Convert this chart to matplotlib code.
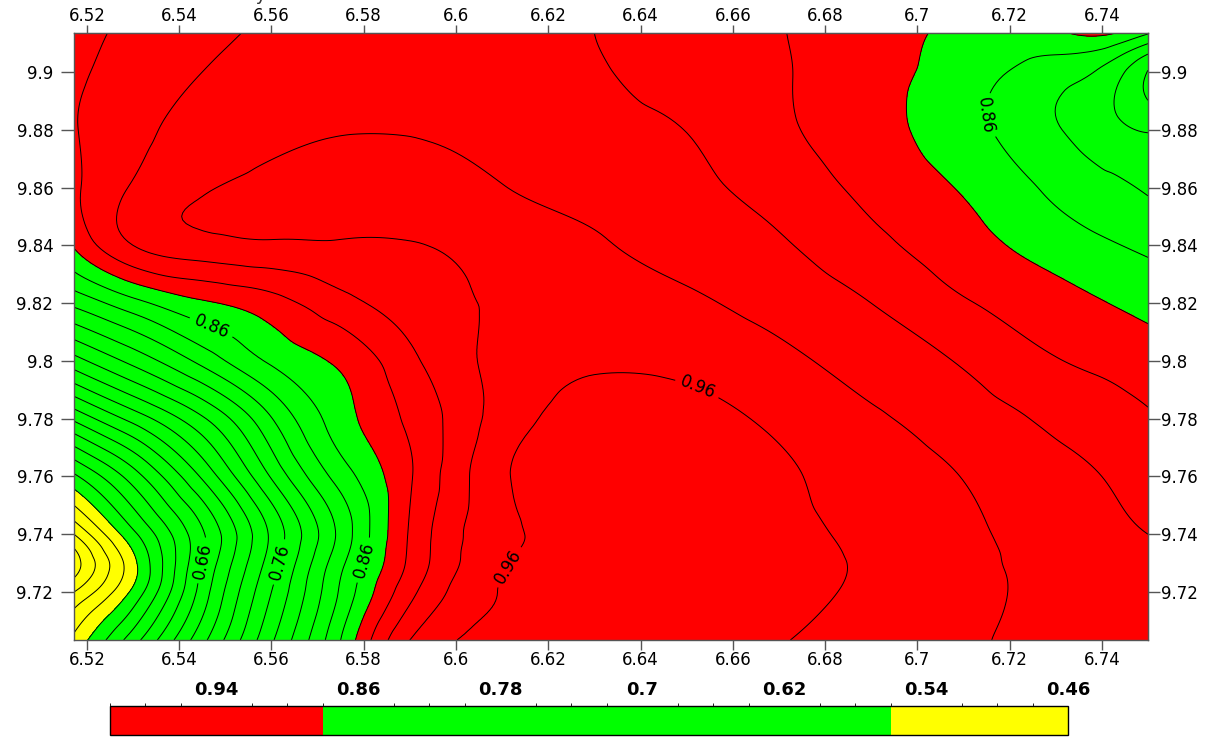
import numpy as np
import matplotlib
matplotlib.use('Agg')
import matplotlib.pyplot as plt
import matplotlib.tri as mtri
import matplotlib.cm as cm
from matplotlib.colors import ListedColormap, BoundaryNorm

# grid (x = easting, y = northing)
x_vals = [6.5172, 6.53, 6.545, 6.56, 6.575, 6.59, 6.61, 6.63, 6.65, 6.67, 6.69, 6.71, 6.73, 6.74, 6.75]
y_vals = [9.7034, 9.72, 9.73, 9.74, 9.76, 9.78, 9.80, 9.82, 9.84, 9.86, 9.88, 9.90, 9.9135]

# one row per y value, bottom to top
z_rows = [
    [0.545, 0.611, 0.694, 0.777, 0.860, 0.940, 0.962, 0.967, 0.967, 0.961, 0.952, 0.9425, 0.935, 0.932, 0.929],
    [0.500, 0.565, 0.669, 0.760, 0.843, 0.914, 0.961, 0.968, 0.970, 0.966, 0.956, 0.9445, 0.935, 0.930, 0.926],
    [0.470, 0.554, 0.660, 0.750, 0.835, 0.904, 0.958, 0.967, 0.970, 0.967, 0.957, 0.9447, 0.934, 0.930, 0.924],
    [0.500, 0.575, 0.657, 0.744, 0.826, 0.902, 0.955, 0.966, 0.969, 0.965, 0.9555, 0.9435, 0.932, 0.926, 0.920],
    [0.576, 0.630, 0.703, 0.782, 0.849, 0.898, 0.957, 0.966, 0.968, 0.963, 0.9515, 0.9395, 0.926, 0.920, 0.911],
    [0.664, 0.707, 0.757, 0.819, 0.871, 0.904, 0.949, 0.966, 0.966, 0.956, 0.943, 0.930, 0.916, 0.909, 0.902],
    [0.752, 0.786, 0.826, 0.863, 0.884, 0.915, 0.946, 0.957, 0.955, 0.945, 0.932, 0.918, 0.901, 0.896, 0.890],
    [0.825, 0.853, 0.877, 0.892, 0.913, 0.929, 0.943, 0.947, 0.943, 0.933, 0.920, 0.902, 0.888, 0.881, 0.874],
    [0.882, 0.920, 0.933, 0.937, 0.938, 0.939, 0.945, 0.942, 0.933, 0.9224, 0.9055, 0.888, 0.871, 0.863, 0.856],
    [0.897, 0.922, 0.938, 0.945, 0.948, 0.947, 0.9405, 0.933, 0.9245, 0.912, 0.895, 0.878, 0.8555, 0.8455, 0.838],
    [0.899, 0.914, 0.928, 0.935, 0.939, 0.939, 0.935, 0.926, 0.9197, 0.904, 0.888, 0.867, 0.842, 0.829, 0.818],
    [0.897, 0.908, 0.920, 0.927, 0.932, 0.934, 0.932, 0.922, 0.913, 0.902, 0.888, 0.870, 0.849, 0.836, 0.799],
    [0.895, 0.904, 0.915, 0.923, 0.928, 0.931, 0.929, 0.920, 0.911, 0.901, 0.8885, 0.876, 0.877, 0.884, 0.862],
]

fill_levels = [0.0, 0.56, 0.88, 2.0]
fill_colors = ['#ffff00', '#00ff00', '#ff0000']
line_levels = [0.46, 0.48, 0.50, 0.52, 0.54, 0.56, 0.58, 0.60, 0.62, 0.64, 0.68, 0.70, 0.72,
               0.74, 0.78, 0.80, 0.82, 0.84, 0.88, 0.90, 0.92, 0.94, 0.98]
label_levels = [0.66, 0.76, 0.86, 0.96]
bar_ticks = [0.94, 0.86, 0.78, 0.7, 0.62, 0.54, 0.46]
xt = [6.52, 6.54, 6.56, 6.58, 6.6, 6.62, 6.64, 6.66, 6.68, 6.7, 6.72, 6.74]
yt = [9.72, 9.74, 9.76, 9.78, 9.8, 9.82, 9.84, 9.86, 9.88, 9.9]

# where the contour labels sit
label_pos = [(6.5467, 9.8107), (6.5445, 9.7312), (6.5601, 9.7312), (6.5796, 9.7312),
             (6.6106, 9.7294), (6.6517, 9.7882), (6.7157, 9.8851)]

X, Y = np.meshgrid(x_vals, y_vals)
Z = np.array(z_rows)

tri = mtri.Triangulation(X.ravel(), Y.ravel())
interp = mtri.CubicTriInterpolator(tri, Z.ravel(), kind='min_E')
refiner = mtri.UniformTriRefiner(tri)
tri_f, z_f = refiner.refine_field(Z.ravel(), triinterpolator=interp, subdiv=4)

fig = plt.figure(figsize=(12.15, 7.38), dpi=100)
ax = fig.add_axes([74/1215, 98/738, 1074/1215, 607/738])

ax.tricontourf(tri_f, z_f, levels=fill_levels, colors=fill_colors)
ax.tricontour(tri_f, z_f, levels=line_levels, colors='k', linewidths=0.7)
cs = ax.tricontour(tri_f, z_f, levels=label_levels, colors='k', linewidths=0.7)
ax.clabel(cs, manual=label_pos, fmt='%g', fontsize=12, inline=True)

ax.set_xlim(6.5172, 6.75)
ax.set_ylim(9.7034, 9.9135)
ax.set_xticks(xt)
ax.set_xticklabels(['%g' % v for v in xt])
ax.set_yticks(yt)
ax.set_yticklabels(['%g' % v for v in yt])
ax.tick_params(direction='out', width=1, color='#555555', labelsize=12)
ax.tick_params(axis='x', length=7, pad=0.8)
ax.tick_params(axis='y', length=9.4, pad=5.5)
for s in ax.spines.values():
    s.set_color('#555555')
    s.set_linewidth(1)

# top and right scales
secx = ax.secondary_xaxis('top')
secx.set_xticks(xt)
secx.set_xticklabels(['%g' % v for v in xt])
secx.tick_params(direction='out', width=1, length=5.8, pad=0, color='#555555', labelsize=12)
secy = ax.secondary_yaxis('right')
secy.set_yticks(yt)
secy.set_yticklabels(['%g' % v for v in yt])
secy.tick_params(direction='out', width=1, length=8.6, pad=0.5, color='#555555', labelsize=12)
for sa in (secx, secy):
    for s in sa.spines.values():
        s.set_color('#555555')

# colour scale
bounds = np.round(np.arange(0.46, 1.0001, 0.02), 2)
box_colors = []
for b in bounds[:-1]:
    if b < 0.56:
        box_colors.append('#ffff00')
    elif b < 0.88:
        box_colors.append('#00ff00')
    else:
        box_colors.append('#ff0000')
cmap = ListedColormap(box_colors)
norm = BoundaryNorm(bounds, len(box_colors))

cax = fig.add_axes([110/1215, 3/738, 958/1215, 29/738])
cb = fig.colorbar(cm.ScalarMappable(norm=norm, cmap=cmap), cax=cax, orientation='horizontal',
                  drawedges=True, ticks=bar_ticks, format='%g')
cax.invert_xaxis()
cax.xaxis.set_ticks_position('top')
cax.tick_params(length=0, labelsize=13, pad=5)
for t in cax.get_xticklabels():
    t.set_fontweight('bold')
cb.outline.set_linewidth(1)
cb.dividers.set_linewidth(1)

fig.text(33/1215, 1 - 0.5/738, 'Contour lines of the study area', fontsize=13,
         va='baseline', color='#333333')

fig.savefig('out.png', dpi=100)
